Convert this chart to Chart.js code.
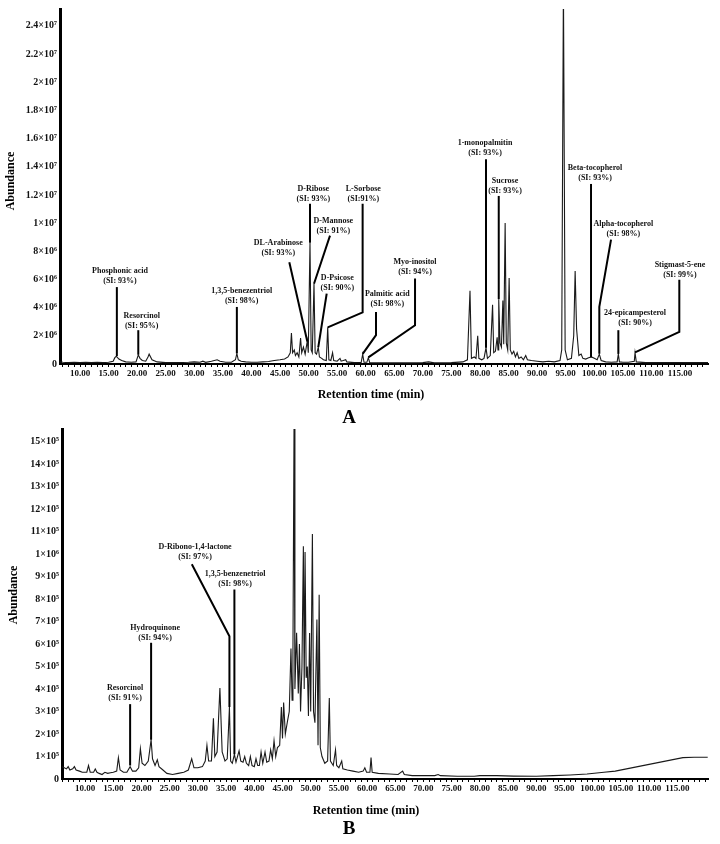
<!DOCTYPE html>
<html>
<head>
<meta charset="utf-8">
<script src="https://cdn.jsdelivr.net/npm/chart.js@4.4.1/dist/chart.umd.min.js"></script>
<style>
  body { margin: 0; background: #fff; }
  canvas { position: absolute; left: 0; }
  #chartA { top: 0; }
  #chartB { top: 420px; }
</style>
</head>
<body>
<canvas id="chartA" width="720" height="432"></canvas>
<canvas id="chartB" width="720" height="424"></canvas>
<script>
// ---- panel A : retention time (min) / abundance (x10^6) ----
const timeA = [
  6.5, 7, 8, 9, 10, 11, 12, 13, 14, 15,
  15.8, 16.1, 16.35, 16.8, 17.3, 18, 19, 19.8, 20.2, 20.5,
  20.9, 21.5, 21.9, 22.1, 22.6, 23.5, 25, 27, 29, 30,
  31, 31.5, 32, 33, 33.5, 34, 34.5, 35.5, 36.5, 37.2,
  37.45, 37.7, 38.2, 39, 40, 41, 42, 43, 44, 45,
  45.8, 46.4, 46.8, 47.0, 47.2, 47.5, 47.7, 48.0, 48.3, 48.6,
  48.8, 49.1, 49.4, 49.78, 49.95, 50.25, 50.45, 50.65, 50.95, 51.15,
  51.4, 51.7, 51.9, 52.3, 52.6, 53.1, 53.35, 53.55, 53.9, 54.2,
  54.4, 55.0, 55.5, 55.7, 56.5, 56.7, 58, 59.2, 59.47, 59.7,
  60.2, 60.46, 60.7, 62, 65, 68, 70, 71, 72, 75,
  77, 77.8, 78.25, 78.5, 79.0, 79.3, 79.6, 79.8, 80.3, 80.7,
  81.05, 81.3, 81.8, 82.2, 82.4, 82.7, 83.0, 83.15, 83.28, 83.5,
  83.75, 84.0, 84.15, 84.4, 84.6, 84.85, 85.1, 85.3, 85.6, 85.9,
  86.2, 86.5, 86.8, 87.2, 87.6, 88.0, 88.3, 89, 90, 91,
  92, 93, 94, 94.3, 94.6, 94.9, 95.3, 96.0, 96.4, 96.65,
  96.9, 97.3, 97.7, 98.0, 98.5, 99, 99.5, 100, 100.5, 100.88,
  101.2, 102, 103, 104, 104.21, 104.4, 105, 106, 107.0, 107.13,
  107.35, 109, 112, 115, 118, 120,
];
const abundA = [
  0.15, 0.12, 0.1, 0.12, 0.1, 0.12, 0.1, 0.12, 0.1, 0.12,
  0.2, 0.45, 0.55, 0.35, 0.25, 0.15, 0.12, 0.15, 0.65, 0.4,
  0.25, 0.2, 0.5, 0.7, 0.3, 0.15, 0.1, 0.1, 0.12, 0.15,
  0.12, 0.2, 0.12, 0.2, 0.25, 0.3, 0.2, 0.12, 0.12, 0.3,
  0.75, 0.3, 0.2, 0.15, 0.12, 0.12, 0.15, 0.18, 0.25, 0.3,
  0.35, 0.5, 0.8, 2.2, 0.8, 1.0, 0.6, 0.8, 0.5, 1.85,
  0.8, 1.2, 0.7, 1.65, 0.8, 8.6, 1.0, 0.8, 5.7, 0.8,
  0.7, 1.2, 0.5, 0.4, 0.3, 0.25, 2.6, 0.3, 0.25, 0.8,
  0.25, 0.2, 0.4, 0.2, 0.3, 0.15, 0.1, 0.1, 0.7, 0.12,
  0.12, 0.45, 0.1, 0.08, 0.08, 0.08, 0.1, 0.15, 0.08, 0.1,
  0.15, 0.3, 5.2, 0.4, 0.5, 0.4, 2.0, 0.4, 0.3, 0.4,
  1.15, 0.4, 0.6, 4.2, 0.8, 0.9, 1.9, 1.0, 4.6, 1.5,
  1.2, 4.5, 1.4, 10.0, 1.5, 1.0, 6.1, 1.0, 0.7, 0.9,
  0.5, 0.8, 0.4, 0.5, 0.3, 0.6, 0.3, 0.25, 0.2, 0.15,
  0.2, 0.15, 0.25, 1.0, 27, 1.0, 0.3, 0.4, 2.0, 6.6,
  2.5, 0.6, 0.7, 0.4, 0.35, 0.45, 0.5, 0.4, 0.3, 0.7,
  0.25, 0.15, 0.12, 0.15, 0.7, 0.15, 0.12, 0.12, 0.2, 0.8,
  0.15, 0.1, 0.1, 0.1, 0.1, 0.1,
];
const yTickLabelsA = ["0", "2×10⁶", "4×10⁶", "6×10⁶", "8×10⁶", "1×10⁷", "1.2×10⁷",
  "1.4×10⁷", "1.6×10⁷", "1.8×10⁷", "2×10⁷", "2.2×10⁷", "2.4×10⁷"];
const yTickValsA = [0, 2, 4, 6, 8, 10, 12, 14, 16, 18, 20, 22, 24];

// compound labels in panel A: name, SI line, label centre [t, abund], leader line
const namesA = ["Phosphonic acid", "Resorcinol", "1,3,5-benezentriol", "DL-Arabinose",
  "D-Ribose", "D-Mannose", "D-Psicose", "L-Sorbose", "Palmitic acid", "Myo-inositol",
  "1-monopalmitin", "Sucrose", "Beta-tocopherol", "Alpha-tocopherol",
  "24-epicampesterol", "Stigmast-5-ene"];
const siA = ["(SI: 93%)", "(SI: 95%)", "(SI: 98%)", "(SI: 93%)", "(SI: 93%)", "(SI: 91%)",
  "(SI: 90%)", "(SI:91%)", "(SI: 98%)", "(SI: 94%)", "(SI: 93%)", "(SI: 93%)",
  "(SI: 93%)", "(SI: 98%)", "(SI: 90%)", "(SI: 99%)"];
const labelAtA = [[17.0, 6.64], [20.8, 3.41], [38.3, 5.17], [44.7, 8.56], [50.83, 12.45],
  [54.33, 10.12], [55.03, 6.12], [59.58, 12.4], [63.78, 4.94], [68.63, 7.22],
  [80.88, 15.69], [84.38, 12.99], [100.13, 13.93], [105.08, 9.93], [107.13, 3.65],
  [115.0, 7.06]];
const leadersA = [
  [[16.45, 5.46], [16.45, 0.56]],
  [[20.2, 2.4], [20.2, 0.66]],
  [[37.45, 4.05], [37.45, 0.76]],
  [[46.63, 7.22], [49.78, 1.6]],
  [[50.25, 11.37], [50.25, 8.6]],
  [[53.75, 9.11], [50.95, 5.7]],
  [[53.17, 4.99], [51.7, 1.2]],
  [[59.46, 11.37], [59.46, 3.67], [53.35, 2.6]],
  [[61.8, 3.69], [61.8, 2.05], [59.47, 0.72]],
  [[68.63, 6.07], [68.63, 2.75], [60.46, 0.47]],
  [[81.05, 14.54], [81.05, 1.15]],
  [[83.28, 11.93], [83.28, 4.6]],
  [[99.43, 12.78], [99.43, 0.48]],
  [[102.93, 8.83], [100.88, 4.05], [100.88, 0.72]],
  [[104.21, 2.4], [104.21, 0.72]],
  [[114.88, 5.98], [114.88, 2.28], [107.13, 0.82]],
];

// ---- panel B : retention time (min) / abundance (x10^5) ----
const timeB = [
  5.9, 6.3, 6.7, 7.0, 7.3, 7.8, 8.1, 8.4, 9, 9.5,
  10.3, 10.6, 10.9, 11.5, 11.8, 12.1, 12.5, 13, 13.5, 14,
  14.5, 15, 15.6, 15.9, 16.2, 16.8, 17.4, 17.98, 18.4, 19.0,
  19.5, 19.8, 20.1, 20.6, 21.2, 21.7, 21.95, 22.4, 22.8, 23.1,
  23.8, 24.5, 25.5, 26.5, 27.5, 28.3, 28.9, 29.3, 30, 30.8,
  31.3, 31.6, 31.9, 32.4, 32.75, 33.0, 33.4, 33.9, 34.3, 34.8,
  35.2, 35.59, 35.8, 36.1, 36.47, 36.75, 37.3, 37.6, 38.0, 38.3,
  38.6, 39.0, 39.3, 39.6, 40.0, 40.3, 40.6, 40.9, 41.2, 41.5,
  41.9, 42.2, 42.6, 42.9, 43.2, 43.5, 43.8, 44.1, 44.5, 44.8,
  45.0, 45.2, 45.5, 45.9, 46.2, 46.5, 46.7, 46.85, 47.05, 47.2,
  47.5, 47.8, 48.0, 48.2, 48.45, 48.7, 48.85, 49.0, 49.2, 49.4,
  49.6, 49.8, 50.0, 50.3, 50.5, 50.75, 51.1, 51.3, 51.5, 51.7,
  52.0, 52.5, 53.0, 53.3, 53.5, 54.0, 54.4, 54.6, 55.0, 55.5,
  55.7, 56.5, 57.5, 58.5, 59.3, 59.6, 59.9, 60.5, 60.7, 60.9,
  62, 64, 65.5, 66.3, 66.6, 68, 70, 72, 72.6, 73,
  76, 79, 80, 83, 86, 90, 93, 96, 99, 102,
  104, 106, 108, 110, 112, 114, 116, 118, 120.4,
];
const abundB = [
  0.55, 0.5, 0.45, 0.55, 0.4, 0.45, 0.55, 0.4, 0.35, 0.3,
  0.3, 0.6, 0.3, 0.3, 0.45, 0.3, 0.25, 0.2, 0.3, 0.25,
  0.28, 0.3, 0.35, 0.95, 0.4, 0.3, 0.3, 0.55, 0.35, 0.35,
  0.5, 1.35, 0.7, 0.6, 0.8, 1.75, 0.9, 0.6, 0.85, 0.55,
  0.4, 0.25, 0.2, 0.25, 0.3, 0.4, 0.9, 0.5, 0.5, 0.55,
  0.8, 1.5, 0.8, 0.8, 2.7, 1.0, 1.2, 4.05, 1.2, 0.8,
  0.9, 3.2, 0.8, 0.7, 1.1, 0.75, 1.25, 0.8, 0.75, 1.0,
  0.7, 0.6, 1.0, 0.6, 0.55, 0.9, 0.6, 0.6, 1.2, 0.7,
  1.2, 0.75, 0.8, 1.3, 0.9, 1.7, 1.0, 1.4, 1.5, 3.2,
  1.8, 3.4, 2.0, 2.6, 3.0, 5.8, 3.5, 5.5, 16, 4.0,
  6.5, 3.8, 6.0, 3.0, 5.0, 10.35, 4.0, 10.1, 4.5, 5.0,
  2.8, 6.5, 3.0, 10.9, 3.0, 2.5, 7.1, 1.5, 8.2, 1.4,
  1.0, 0.7, 0.8, 3.6, 0.8, 0.6, 1.3, 0.6, 0.5, 0.8,
  0.45, 0.4, 0.35, 0.3, 0.35, 0.5, 0.3, 0.3, 0.95, 0.3,
  0.25, 0.22, 0.2, 0.35, 0.2, 0.15, 0.15, 0.15, 0.2, 0.15,
  0.12, 0.12, 0.15, 0.15, 0.13, 0.12, 0.15, 0.18, 0.22, 0.3,
  0.35, 0.45, 0.55, 0.65, 0.75, 0.85, 0.95, 0.97, 0.97,
];
const yTickLabelsB = ["0", "1×10⁵", "2×10⁵", "3×10⁵", "4×10⁵", "5×10⁵", "6×10⁵", "7×10⁵",
  "8×10⁵", "9×10⁵", "1×10⁶", "11×10⁵", "12×10⁵", "13×10⁵", "14×10⁵", "15×10⁵"];
const yTickValsB = [0, 1, 2, 3, 4, 5, 6, 7, 8, 9, 10, 11, 12, 13, 14, 15];

const namesB = ["Resorcinol", "Hydroquinone", "D-Ribono-1,4-lactone", "1,3,5-benzenetriol"];
const siB = ["(SI: 91%)", "(SI: 94%)", "(SI: 97%)", "(SI: 98%)"];
const labelAtB = [[17.09, 4.07], [22.41, 6.73], [29.5, 10.31], [36.6, 9.11]];
const leadersB = [
  [[17.98, 3.33], [17.98, 0.6]],
  [[21.7, 6.06], [21.7, 1.75]],
  [[28.92, 9.55], [35.59, 6.35], [35.59, 3.2]],
  [[36.47, 8.43], [36.47, 1.1]],
];

const xTickLabels = ["10.00", "15.00", "20.00", "25.00", "30.00", "35.00", "40.00", "45.00",
  "50.00", "55.00", "60.00", "65.00", "70.00", "75.00", "80.00", "85.00", "90.00",
  "95.00", "100.00", "105.00", "110.00", "115.00"];

const SERIF = "'Liberation Serif', 'Times New Roman', serif";

function makePanel(canvasId, panel) {
  const points = panel.times.map((t, i) => ({ x: t, y: panel.values[i] }));
  const xLabelMap = {};
  xTickLabels.forEach((l) => (xLabelMap[parseFloat(l)] = l));
  const yLabelMap = {};
  panel.yVals.forEach((v, i) => (yLabelMap[v] = panel.yLabels[i]));

  const annotationPlugin = {
    id: "annotations_" + canvasId,
    afterDatasetsDraw(chart) {
      const { ctx, scales } = chart;
      ctx.save();
      ctx.strokeStyle = "#000";
      ctx.lineWidth = 2;
      panel.leaders.forEach((path) => {
        ctx.beginPath();
        path.forEach(([t, v], i) => {
          const px = scales.x.getPixelForValue(t);
          const py = scales.y.getPixelForValue(v);
          if (i === 0) ctx.moveTo(px, py);
          else ctx.lineTo(px, py);
        });
        ctx.stroke();
      });
      ctx.fillStyle = "#111";
      ctx.font = "bold 8px " + SERIF;
      ctx.textAlign = "center";
      ctx.textBaseline = "middle";
      panel.names.forEach((name, i) => {
        const px = scales.x.getPixelForValue(panel.labelAt[i][0]);
        const py = scales.y.getPixelForValue(panel.labelAt[i][1]);
        ctx.fillText(name, px, py);
        ctx.fillText(panel.si[i], px, py + 10);
      });

      // axis titles and panel letter
      ctx.fillStyle = "#000";
      ctx.font = "bold 12px " + SERIF;
      ctx.fillText("Retention time (min)", panel.xTitle[0], panel.xTitle[1]);
      ctx.font = "bold 19px " + SERIF;
      ctx.fillText(panel.letter, panel.letterAt[0], panel.letterAt[1]);
      ctx.save();
      ctx.translate(panel.yTitle[0], panel.yTitle[1]);
      ctx.rotate(-Math.PI / 2);
      ctx.font = "bold 12px " + SERIF;
      ctx.fillText("Abundance", 0, 0);
      ctx.restore();
      ctx.restore();
    },
  };

  return new Chart(document.getElementById(canvasId), {
    type: "line",
    data: {
      datasets: [
        {
          data: points,
          borderColor: "#1a1a1a",
          borderWidth: 1.1,
          pointRadius: 0,
          tension: 0,
          fill: false,
        },
      ],
    },
    options: {
      responsive: false,
      animation: false,
      layout: { padding: { left: 0, right: 12, top: panel.padTop, bottom: 0 } },
      plugins: { legend: { display: false }, tooltip: { enabled: false } },
      scales: {
        x: {
          type: "linear",
          min: panel.xMin,
          max: panel.xMax,
          afterFit: (scale) => {
            scale.height = panel.xAxisHeight;
          },
          afterBuildTicks: (scale) => {
            const ticks = [];
            for (let m = Math.ceil(panel.xMin); m <= panel.xMax; m++) ticks.push({ value: m });
            scale.ticks = ticks;
          },
          ticks: {
            autoSkip: false,
            maxRotation: 0,
            padding: 1,
            color: "#111",
            font: { family: SERIF, size: 9, weight: "bold" },
            callback: (v) => xLabelMap[v] || "",
          },
          grid: { display: true, drawOnChartArea: false, drawTicks: true, tickLength: 3, color: "#000" },
          border: { display: true, width: 2, color: "#000" },
        },
        y: {
          min: 0,
          max: panel.yMax,
          afterFit: (scale) => {
            scale.width = panel.yAxisWidth;
          },
          afterBuildTicks: (scale) => {
            scale.ticks = panel.yVals.map((v) => ({ value: v }));
          },
          ticks: {
            padding: 3,
            color: "#111",
            font: { family: SERIF, size: 10, weight: "bold" },
            callback: (v) => yLabelMap[v],
          },
          grid: { display: false, drawTicks: false },
          border: { display: true, width: 3, color: "#000" },
        },
      },
    },
    plugins: [annotationPlugin],
  });
}

makePanel("chartA", {
  times: timeA,
  values: abundA,
  yVals: yTickValsA,
  yLabels: yTickLabelsA,
  yMax: 25.2,
  xMin: 6.5,
  xMax: 119.9,
  padTop: 8,
  xAxisHeight: 68,
  yAxisWidth: 60,
  names: namesA,
  si: siA,
  labelAt: labelAtA,
  leaders: leadersA,
  xTitle: [371, 395],
  letter: "A",
  letterAt: [349, 418],
  yTitle: [11, 181],
});

makePanel("chartB", {
  times: timeB,
  values: abundB,
  yVals: yTickValsB,
  yLabels: yTickLabelsB,
  yMax: 15.57,
  xMin: 5.9,
  xMax: 120.45,
  padTop: 2,
  xAxisHeight: 65,
  yAxisWidth: 62,
  names: namesB,
  si: siB,
  labelAt: labelAtB,
  leaders: leadersB,
  xTitle: [366, 391],
  letter: "B",
  letterAt: [349, 409],
  yTitle: [14, 175],
});
</script>
</body>
</html>
